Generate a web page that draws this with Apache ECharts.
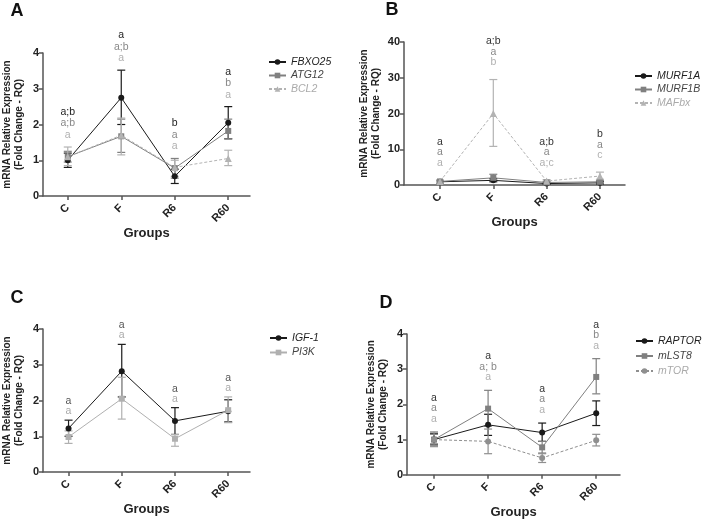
<!DOCTYPE html>
<html><head><meta charset="utf-8">
<script src="https://cdn.jsdelivr.net/npm/echarts@6/dist/echarts.min.js"></script>
<style>html,body{margin:0;padding:0;background:#fff}#c{width:705px;height:520px}</style>
</head><body><div id="c"></div>
<script>
const groups = ['C', 'F', 'R6', 'R60'];

// ---- Panel A ----
const namesA = ['FBXO25', 'ATG12', 'BCL2'];
const fbxo25 = [1.00, 2.75, 0.55, 2.05];
const fbxo25Lo = [0.80, 2.00, 0.35, 1.60];
const fbxo25Hi = [1.20, 3.52, 0.75, 2.50];
const atg12 = [1.10, 1.67, 0.78, 1.82];
const atg12Lo = [0.95, 1.22, 0.50, 1.60];
const atg12Hi = [1.25, 2.15, 1.05, 2.15];
const bcl2 = [1.10, 1.70, 0.80, 1.05];
const bcl2Lo = [0.85, 1.15, 0.55, 0.85];
const bcl2Hi = [1.37, 2.18, 1.00, 1.28];
const lettersA = [['a;b', 'a;b', 'a'], ['a', 'a;b', 'a'], ['b', 'a', 'a'], ['a', 'b', 'a']];
const yTicksA = [0, 1, 2, 3, 4];

// ---- Panel B ----
const namesB = ['MURF1A', 'MURF1B', 'MAFbx'];
const murf1a = [0.9, 1.3, 0.4, 0.6];
const murf1aLo = [0.6, 0.9, 0.2, 0.3];
const murf1aHi = [1.2, 1.8, 0.6, 0.9];
const murf1b = [1.0, 2.0, 0.7, 0.9];
const murf1bLo = [0.7, 1.4, 0.4, 0.6];
const murf1bHi = [1.3, 3.0, 1.0, 1.3];
const mafbx = [1.0, 20.0, 1.1, 2.5];
const mafbxLo = [0.7, 10.8, 0.7, 1.6];
const mafbxHi = [1.4, 29.5, 1.5, 3.6];
const lettersB = [['a', 'a', 'a'], ['a;b', 'a', 'b'], ['a;b', 'a', 'a;c'], ['b', 'a', 'c']];
const yTicksB = [0, 10, 20, 30, 40];

// ---- Panel C ----
const namesC = ['IGF-1', 'PI3K'];
const igf1 = [1.22, 2.82, 1.43, 1.70];
const igf1Lo = [1.00, 2.10, 1.05, 1.40];
const igf1Hi = [1.45, 3.57, 1.80, 2.02];
const pi3k = [0.98, 2.05, 0.93, 1.73];
const pi3kLo = [0.80, 1.48, 0.72, 1.38];
const pi3kHi = [1.15, 2.65, 1.05, 2.10];
const lettersC = [['a', 'a'], ['a', 'a'], ['a', 'a'], ['a', 'a']];
const yTicksC = [0, 1, 2, 3, 4];

// ---- Panel D ----
const namesD = ['RAPTOR', 'mLST8', 'mTOR'];
const raptor = [1.00, 1.42, 1.20, 1.75];
const raptorLo = [0.85, 1.12, 0.95, 1.40];
const raptorHi = [1.18, 1.72, 1.47, 2.10];
const mlst8 = [1.00, 1.88, 0.78, 2.78];
const mlst8Lo = [0.88, 1.38, 0.62, 2.30];
const mlst8Hi = [1.15, 2.40, 0.95, 3.30];
const mtor = [1.00, 0.95, 0.48, 0.98];
const mtorLo = [0.80, 0.60, 0.35, 0.82];
const mtorHi = [1.22, 1.30, 0.60, 1.15];
const lettersD = [['a', 'a', 'a'], ['a', 'a; b', 'a'], ['a', 'a', 'a'], ['a', 'b', 'a']];
const yTicksD = [0, 1, 2, 3, 4];

const FONT = 'Liberation Sans, Arial, sans-serif';
const S_BLACK = {color: '#1a1a1a', symbol: 'circle', dash: false, legendText: '#222'};
const S_GRAY = {color: '#808080', symbol: 'rect', dash: false, legendText: '#444'};
const S_LIGHT = {color: '#b3b3b3', symbol: 'triangle', dash: true, legendText: '#aaa'};
const S_LIGHTC = {color: '#b0b0b0', symbol: 'rect', dash: false, legendText: '#444'};
const S_MTOR = {color: '#8f8f8f', symbol: 'circle', dash: true, legendText: '#aaa'};

const panels = [
  {label: 'A', lx: 17, ly: 11, grid: {left: 41, top: 53, width: 209, height: 143}, xr: [-0.463, 3.407],
   yTicks: yTicksA, names: namesA, vals: [fbxo25, atg12, bcl2], lo: [fbxo25Lo, atg12Lo, bcl2Lo], hi: [fbxo25Hi, atg12Hi, bcl2Hi],
   styles: [S_BLACK, S_GRAY, S_LIGHT], letters: lettersA, letterColors: ['#222', '#888', '#b0b0b0'], gap: 12, rowH: 11.5,
   legend: {left: 268, top: 56, itemGap: 1.5}, nameGapY: 18, nameGapX: 31},
  {label: 'B', lx: 392, ly: 10, grid: {left: 404, top: 42, width: 221, height: 143}, xr: [-0.675, 3.47],
   yTicks: yTicksB, names: namesB, vals: [murf1a, murf1b, mafbx], lo: [murf1aLo, murf1bLo, mafbxLo], hi: [murf1aHi, murf1bHi, mafbxHi],
   styles: [S_BLACK, S_GRAY, S_LIGHT], letters: lettersB, letterColors: ['#333', '#888', '#b0b0b0'], gap: 17, rowH: 10.5,
   legend: {left: 634, top: 70, itemGap: 1.5}, nameGapY: 22, nameGapX: 31},
  {label: 'C', lx: 17, ly: 298, grid: {left: 40, top: 329, width: 210, height: 143}, xr: [-0.48, 3.41],
   yTicks: yTicksC, names: namesC, vals: [igf1, pi3k], lo: [igf1Lo, pi3kLo], hi: [igf1Hi, pi3kHi],
   styles: [S_BLACK, S_LIGHTC], letters: lettersC, letterColors: ['#555', '#aaa'], gap: 9, rowH: 10,
   legend: {left: 269, top: 332, itemGap: 2.5}, nameGapY: 18, nameGapX: 30},
  {label: 'D', lx: 386, ly: 303, grid: {left: 407, top: 334, width: 213, height: 143}, xr: [-0.5, 3.44],
   yTicks: yTicksD, names: namesD, vals: [raptor, mlst8, mtor], lo: [raptorLo, mlst8Lo, mtorLo], hi: [raptorHi, mlst8Hi, mtorHi],
   styles: [S_BLACK, S_GRAY, S_MTOR], letters: lettersD, letterColors: ['#333', '#888', '#b0b0b0'], gap: 13, rowH: 10.5,
   legend: {left: 635, top: 335, itemGap: 3}, nameGapY: 18, nameGapX: 30}
];

const option = {
  animation: false,
  backgroundColor: '#fff',
  grid: [], xAxis: [], yAxis: [], series: [], legend: [], graphic: []
};

panels.forEach((p, k) => {
  option.grid.push(Object.assign({containLabel: false}, p.grid));
  option.xAxis.push({
    type: 'value', gridIndex: k, min: p.xr[0], max: p.xr[1],
    axisLine: {show: true, onZero: false, lineStyle: {color: '#555', width: 1.5}},
    axisTick: {show: true, customValues: [0, 1, 2, 3], length: 4, lineStyle: {color: '#555', width: 1.5}},
    axisLabel: {customValues: [0, 1, 2, 3], rotate: 45, margin: 10, fontSize: 11, fontWeight: 'bold', color: '#222', fontFamily: FONT,
                formatter: v => groups[Math.round(v)]},
    splitLine: {show: false},
    name: 'Groups', nameLocation: 'middle', nameGap: p.nameGapX,
    nameTextStyle: {fontSize: 13, fontWeight: 'bold', color: '#222', fontFamily: FONT}
  });
  const t = p.yTicks;
  option.yAxis.push({
    type: 'value', gridIndex: k, min: t[0], max: t[t.length - 1], interval: t[1] - t[0],
    axisLine: {show: true, onZero: false, lineStyle: {color: '#555', width: 1.5}},
    axisTick: {show: true, length: 4, lineStyle: {color: '#555', width: 1.5}},
    axisLabel: {fontSize: 11, fontWeight: 'bold', color: '#222', margin: 4, fontFamily: FONT},
    splitLine: {show: false},
    name: 'mRNA Relative Expression\n(Fold Change - RQ)', nameLocation: 'middle', nameGap: p.nameGapY,
    nameTextStyle: {fontSize: 10, fontWeight: 'bold', color: '#222', lineHeight: 12, fontFamily: FONT}
  });

  // error bars
  p.vals.forEach((vals, s) => {
    const st = p.styles[s];
    option.series.push({
      type: 'custom', name: 'err_' + p.names[s], xAxisIndex: k, yAxisIndex: k, z: 2,
      data: vals.map((v, i) => [i, p.lo[s][i], p.hi[s][i]]),
      encode: {x: 0, y: [1, 2]},
      renderItem: (params, api) => {
        const x = api.value(0);
        const a = api.coord([x, api.value(1)]);
        const b = api.coord([x, api.value(2)]);
        const w = 4;
        const style = {stroke: st.color, lineWidth: 1.2, fill: null};
        return {type: 'group', children: [
          {type: 'line', shape: {x1: a[0], y1: a[1], x2: b[0], y2: b[1]}, style},
          {type: 'line', shape: {x1: a[0] - w, y1: a[1], x2: a[0] + w, y2: a[1]}, style},
          {type: 'line', shape: {x1: b[0] - w, y1: b[1], x2: b[0] + w, y2: b[1]}, style}
        ]};
      }
    });
  });

  // lines
  p.vals.forEach((vals, s) => {
    const st = p.styles[s];
    option.series.push({
      type: 'line', name: p.names[s], xAxisIndex: k, yAxisIndex: k, z: 3,
      data: vals.map((v, i) => [i, v]),
      symbol: st.symbol, symbolSize: st.symbol === 'triangle' ? 7 : 6,
      itemStyle: {color: st.color},
      lineStyle: {color: st.color, width: 1, type: st.dash ? [3, 2] : 'solid'}
    });
  });

  // significance letters
  option.series.push({
    type: 'custom', name: 'letters' + k, xAxisIndex: k, yAxisIndex: k, z: 4, clip: false,
    data: groups.map((g, i) => [i, Math.max.apply(null, p.hi.map(h => h[i]))]),
    encode: {x: 0, y: 1},
    renderItem: (params, api) => {
      const c = api.coord([api.value(0), api.value(1)]);
      const rows = p.letters[params.dataIndex];
      return {type: 'group', children: rows.map((txt, r) => ({
        type: 'text',
        style: {text: txt, x: c[0], y: c[1] - p.gap - (rows.length - 1 - r) * p.rowH,
                align: 'center', verticalAlign: 'middle', fill: p.letterColors[r],
                fontSize: 10.5, fontFamily: FONT}
      }))};
    }
  });

  option.legend.push({
    orient: 'vertical', left: p.legend.left, top: p.legend.top, itemGap: p.legend.itemGap,
    itemWidth: 17, itemHeight: 7, padding: 0,
    data: p.names.map((n, s) => ({name: n, textStyle: {color: p.styles[s].legendText}})),
    textStyle: {fontSize: 10.5, fontStyle: 'italic', fontFamily: FONT, lineHeight: 12}
  });

  option.graphic.push({
    type: 'text', x: p.lx, y: p.ly,
    style: {text: p.label, align: 'center', verticalAlign: 'middle', fontSize: 18, fontWeight: 'bold', fill: '#111', fontFamily: FONT}
  });
});

const chart = echarts.init(document.getElementById('c'), null, {renderer: 'canvas'});
chart.setOption(option);
</script>
</body></html>
